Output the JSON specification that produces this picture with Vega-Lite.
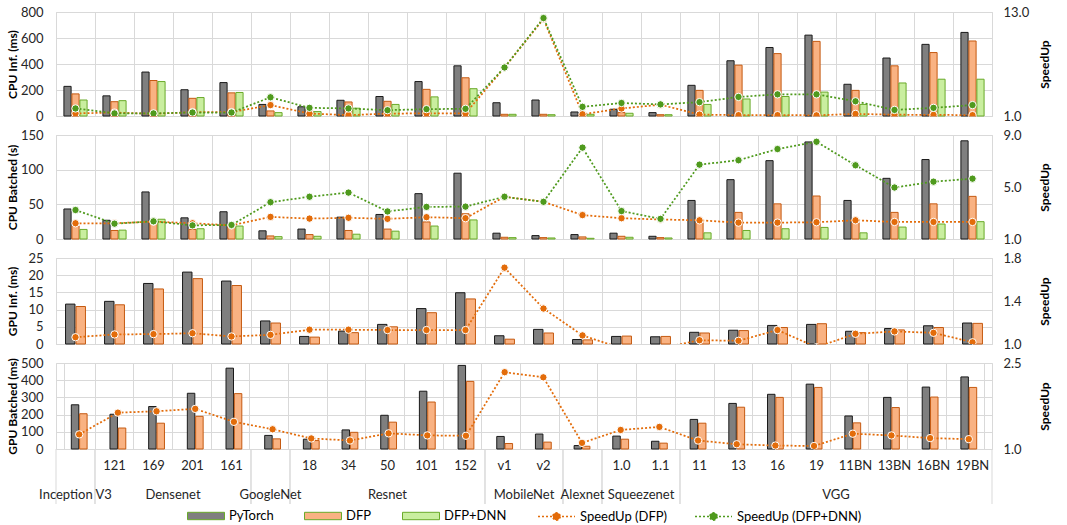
{
  "$schema": "https://vega.github.io/schema/vega-lite/v6.json",
  "background": "white",
  "padding": {"top": 5, "left": 5, "right": 5, "bottom": 2},
  "bounds": "flush",
  "spacing": 19,
  "config": {
    "font": "Lato",
    "view": {"stroke": "#d9d9d9"},
    "axis": {"labelFont": "Lato", "labelFontSize": 13, "labelColor": "#262626", "titleFont": "Lato", "titleFontSize": 12, "titleFontWeight": "bold", "titleColor": "#000000", "gridColor": "#d9d9d9", "domain": false, "ticks": false, "labelOverlap": false},
    "legend": {"orient": "bottom", "direction": "horizontal", "labelFont": "Lato", "labelFontSize": 13, "labelColor": "#000000", "columnPadding": 28, "gridAlign": "none", "labelOffset": 4, "offset": -8, "padding": 0, "layout": {"bottom": {"anchor": "middle", "direction": "horizontal", "margin": 30}}},
    "text": {"font": "Lato", "fontSize": 13, "color": "#262626"}
  },
  "resolve": {"scale": {"x": "shared", "y": "independent", "xOffset": "independent", "fill": "shared", "color": "shared"}},
  "datasets": {
    "cpu_inf": [
      {"model": "Inception V3", "PyTorch": 228, "DFP": 170, "DFP+DNN": 123, "SpeedUp (DFP)": 1.3, "SpeedUp (DFP+DNN)": 1.87},
      {"model": "Densenet 121", "PyTorch": 155, "DFP": 110, "DFP+DNN": 118, "SpeedUp (DFP)": 1.4, "SpeedUp (DFP+DNN)": 1.3},
      {"model": "Densenet 169", "PyTorch": 338, "DFP": 273, "DFP+DNN": 265, "SpeedUp (DFP)": 1.25, "SpeedUp (DFP+DNN)": 1.3},
      {"model": "Densenet 201", "PyTorch": 202, "DFP": 136, "DFP+DNN": 142, "SpeedUp (DFP)": 1.45, "SpeedUp (DFP+DNN)": 1.4},
      {"model": "Densenet 161", "PyTorch": 257, "DFP": 178, "DFP+DNN": 181, "SpeedUp (DFP)": 1.45, "SpeedUp (DFP+DNN)": 1.4},
      {"model": "GoogleNet", "PyTorch": 89, "DFP": 39, "DFP+DNN": 26, "SpeedUp (DFP)": 2.26, "SpeedUp (DFP+DNN)": 3.16},
      {"model": "Resnet 18", "PyTorch": 71, "DFP": 38, "DFP+DNN": 34, "SpeedUp (DFP)": 1.28, "SpeedUp (DFP+DNN)": 1.94},
      {"model": "Resnet 34", "PyTorch": 121, "DFP": 108, "DFP+DNN": 60, "SpeedUp (DFP)": 1.1, "SpeedUp (DFP+DNN)": 1.87},
      {"model": "Resnet 50", "PyTorch": 150, "DFP": 113, "DFP+DNN": 89, "SpeedUp (DFP)": 1.28, "SpeedUp (DFP+DNN)": 1.67},
      {"model": "Resnet 101", "PyTorch": 265, "DFP": 205, "DFP+DNN": 147, "SpeedUp (DFP)": 1.3, "SpeedUp (DFP+DNN)": 1.79},
      {"model": "Resnet 152", "PyTorch": 386, "DFP": 294, "DFP+DNN": 210, "SpeedUp (DFP)": 1.3, "SpeedUp (DFP+DNN)": 1.83},
      {"model": "MobileNet v1", "PyTorch": 102, "DFP": 13, "DFP+DNN": 13, "SpeedUp (DFP)": 6.6, "SpeedUp (DFP+DNN)": 6.6},
      {"model": "MobileNet v2", "PyTorch": 123, "DFP": 13, "DFP+DNN": 10, "SpeedUp (DFP)": 12.2, "SpeedUp (DFP+DNN)": 12.3},
      {"model": "Alexnet", "PyTorch": 31, "DFP": 14, "DFP+DNN": 13, "SpeedUp (DFP)": 1.2, "SpeedUp (DFP+DNN)": 2.06},
      {"model": "Squeezenet 1.0", "PyTorch": 52, "DFP": 26, "DFP+DNN": 21, "SpeedUp (DFP)": 1.87, "SpeedUp (DFP+DNN)": 2.5},
      {"model": "Squeezenet 1.1", "PyTorch": 26, "DFP": 10, "DFP+DNN": 10, "SpeedUp (DFP)": 2.3, "SpeedUp (DFP+DNN)": 2.34},
      {"model": "VGG 11", "PyTorch": 236, "DFP": 197, "DFP+DNN": 89, "SpeedUp (DFP)": 1.16, "SpeedUp (DFP+DNN)": 2.6},
      {"model": "VGG 13", "PyTorch": 425, "DFP": 391, "DFP+DNN": 131, "SpeedUp (DFP)": 1.1, "SpeedUp (DFP+DNN)": 3.2},
      {"model": "VGG 16", "PyTorch": 527, "DFP": 480, "DFP+DNN": 150, "SpeedUp (DFP)": 1.1, "SpeedUp (DFP+DNN)": 3.5},
      {"model": "VGG 19", "PyTorch": 622, "DFP": 574, "DFP+DNN": 184, "SpeedUp (DFP)": 1.08, "SpeedUp (DFP+DNN)": 3.5},
      {"model": "VGG 11BN", "PyTorch": 244, "DFP": 197, "DFP+DNN": 89, "SpeedUp (DFP)": 1.24, "SpeedUp (DFP+DNN)": 2.7},
      {"model": "VGG 13BN", "PyTorch": 446, "DFP": 386, "DFP+DNN": 254, "SpeedUp (DFP)": 1.15, "SpeedUp (DFP+DNN)": 1.7},
      {"model": "VGG 16BN", "PyTorch": 551, "DFP": 488, "DFP+DNN": 283, "SpeedUp (DFP)": 1.13, "SpeedUp (DFP+DNN)": 1.94},
      {"model": "VGG 19BN", "PyTorch": 643, "DFP": 577, "DFP+DNN": 283, "SpeedUp (DFP)": 1.1, "SpeedUp (DFP+DNN)": 2.26}
    ],
    "cpu_bat": [
      {"model": "Inception V3", "PyTorch": 43.3, "DFP": 19, "DFP+DNN": 13.8, "SpeedUp (DFP)": 2.21, "SpeedUp (DFP+DNN)": 3.23},
      {"model": "Densenet 121", "PyTorch": 27, "DFP": 12.3, "DFP+DNN": 12.8, "SpeedUp (DFP)": 2.21, "SpeedUp (DFP+DNN)": 2.18},
      {"model": "Densenet 169", "PyTorch": 67.9, "DFP": 24, "DFP+DNN": 28.5, "SpeedUp (DFP)": 2.34, "SpeedUp (DFP+DNN)": 2.36},
      {"model": "Densenet 201", "PyTorch": 30.5, "DFP": 13.8, "DFP+DNN": 14.8, "SpeedUp (DFP)": 2.21, "SpeedUp (DFP+DNN)": 2.05},
      {"model": "Densenet 161", "PyTorch": 39.3, "DFP": 18.7, "DFP+DNN": 18.7, "SpeedUp (DFP)": 2.05, "SpeedUp (DFP+DNN)": 2.08},
      {"model": "GoogleNet", "PyTorch": 11.8, "DFP": 4.4, "DFP+DNN": 3.4, "SpeedUp (DFP)": 2.7, "SpeedUp (DFP+DNN)": 3.83},
      {"model": "Resnet 18", "PyTorch": 14.3, "DFP": 6.4, "DFP+DNN": 3.9, "SpeedUp (DFP)": 2.57, "SpeedUp (DFP+DNN)": 4.25},
      {"model": "Resnet 34", "PyTorch": 31.5, "DFP": 12.3, "DFP+DNN": 6.9, "SpeedUp (DFP)": 2.63, "SpeedUp (DFP+DNN)": 4.57},
      {"model": "Resnet 50", "PyTorch": 35.4, "DFP": 14.3, "DFP+DNN": 11.3, "SpeedUp (DFP)": 2.55, "SpeedUp (DFP+DNN)": 3.12},
      {"model": "Resnet 101", "PyTorch": 65.4, "DFP": 24.6, "DFP+DNN": 18.7, "SpeedUp (DFP)": 2.68, "SpeedUp (DFP+DNN)": 3.47},
      {"model": "Resnet 152", "PyTorch": 94.9, "DFP": 36.4, "DFP+DNN": 27.5, "SpeedUp (DFP)": 2.6, "SpeedUp (DFP+DNN)": 3.49},
      {"model": "MobileNet v1", "PyTorch": 8.4, "DFP": 2.5, "DFP+DNN": 2.0, "SpeedUp (DFP)": 4.25, "SpeedUp (DFP+DNN)": 4.25},
      {"model": "MobileNet v2", "PyTorch": 4.9, "DFP": 2.0, "DFP+DNN": 1.5, "SpeedUp (DFP)": 3.86, "SpeedUp (DFP+DNN)": 3.86},
      {"model": "Alexnet", "PyTorch": 6.4, "DFP": 3.0, "DFP+DNN": 1.0, "SpeedUp (DFP)": 2.84, "SpeedUp (DFP+DNN)": 8.03},
      {"model": "Squeezenet 1.0", "PyTorch": 8.4, "DFP": 3.9, "DFP+DNN": 2.5, "SpeedUp (DFP)": 2.6, "SpeedUp (DFP+DNN)": 3.15},
      {"model": "Squeezenet 1.1", "PyTorch": 3.9, "DFP": 2.0, "DFP+DNN": 1.5, "SpeedUp (DFP)": 2.5, "SpeedUp (DFP+DNN)": 2.55},
      {"model": "VGG 11", "PyTorch": 55.6, "DFP": 23.6, "DFP+DNN": 8.9, "SpeedUp (DFP)": 2.44, "SpeedUp (DFP+DNN)": 6.72},
      {"model": "VGG 13", "PyTorch": 85.6, "DFP": 38.4, "DFP+DNN": 12.3, "SpeedUp (DFP)": 2.26, "SpeedUp (DFP+DNN)": 7.06},
      {"model": "VGG 16", "PyTorch": 113, "DFP": 50.7, "DFP+DNN": 14.8, "SpeedUp (DFP)": 2.26, "SpeedUp (DFP+DNN)": 7.92},
      {"model": "VGG 19", "PyTorch": 140, "DFP": 62, "DFP+DNN": 16.7, "SpeedUp (DFP)": 2.29, "SpeedUp (DFP+DNN)": 8.48},
      {"model": "VGG 11BN", "PyTorch": 55.6, "DFP": 23.6, "DFP+DNN": 8.9, "SpeedUp (DFP)": 2.44, "SpeedUp (DFP+DNN)": 6.67},
      {"model": "VGG 13BN", "PyTorch": 87.5, "DFP": 38.4, "DFP+DNN": 17.2, "SpeedUp (DFP)": 2.31, "SpeedUp (DFP+DNN)": 4.96},
      {"model": "VGG 16BN", "PyTorch": 114.6, "DFP": 50.7, "DFP+DNN": 21.6, "SpeedUp (DFP)": 2.31, "SpeedUp (DFP+DNN)": 5.41},
      {"model": "VGG 19BN", "PyTorch": 141.6, "DFP": 61.5, "DFP+DNN": 25, "SpeedUp (DFP)": 2.31, "SpeedUp (DFP+DNN)": 5.64}
    ],
    "gpu_inf": [
      {"model": "Inception V3", "PyTorch": 11.6, "DFP": 10.9, "SpeedUp (DFP)": 1.063},
      {"model": "Densenet 121", "PyTorch": 12.4, "DFP": 11.4, "SpeedUp (DFP)": 1.089},
      {"model": "Densenet 169", "PyTorch": 17.6, "DFP": 16.0, "SpeedUp (DFP)": 1.092},
      {"model": "Densenet 201", "PyTorch": 20.9, "DFP": 19.0, "SpeedUp (DFP)": 1.1},
      {"model": "Densenet 161", "PyTorch": 18.3, "DFP": 17.0, "SpeedUp (DFP)": 1.07},
      {"model": "GoogleNet", "PyTorch": 6.7, "DFP": 6.1, "SpeedUp (DFP)": 1.085},
      {"model": "Resnet 18", "PyTorch": 2.2, "DFP": 2.0, "SpeedUp (DFP)": 1.133},
      {"model": "Resnet 34", "PyTorch": 3.75, "DFP": 3.3, "SpeedUp (DFP)": 1.133},
      {"model": "Resnet 50", "PyTorch": 5.7, "DFP": 5.0, "SpeedUp (DFP)": 1.13},
      {"model": "Resnet 101", "PyTorch": 10.3, "DFP": 9.1, "SpeedUp (DFP)": 1.13},
      {"model": "Resnet 152", "PyTorch": 14.9, "DFP": 13.1, "SpeedUp (DFP)": 1.13},
      {"model": "MobileNet v1", "PyTorch": 2.4, "DFP": 1.4, "SpeedUp (DFP)": 1.71},
      {"model": "MobileNet v2", "PyTorch": 4.25, "DFP": 3.2, "SpeedUp (DFP)": 1.33},
      {"model": "Alexnet", "PyTorch": 1.3, "DFP": 1.2, "SpeedUp (DFP)": 1.08},
      {"model": "Squeezenet 1.0", "PyTorch": 2.2, "DFP": 2.3, "SpeedUp (DFP)": 0.96},
      {"model": "Squeezenet 1.1", "PyTorch": 2.1, "DFP": 2.2, "SpeedUp (DFP)": 0.96},
      {"model": "VGG 11", "PyTorch": 3.4, "DFP": 3.2, "SpeedUp (DFP)": 1.035},
      {"model": "VGG 13", "PyTorch": 4.0, "DFP": 3.9, "SpeedUp (DFP)": 1.03},
      {"model": "VGG 16", "PyTorch": 5.4, "DFP": 4.8, "SpeedUp (DFP)": 1.13},
      {"model": "VGG 19", "PyTorch": 5.7, "DFP": 5.9, "SpeedUp (DFP)": 0.97},
      {"model": "VGG 11BN", "PyTorch": 3.7, "DFP": 3.3, "SpeedUp (DFP)": 1.095},
      {"model": "VGG 13BN", "PyTorch": 4.5, "DFP": 4.1, "SpeedUp (DFP)": 1.117},
      {"model": "VGG 16BN", "PyTorch": 5.3, "DFP": 4.8, "SpeedUp (DFP)": 1.104},
      {"model": "VGG 19BN", "PyTorch": 6.1, "DFP": 6.0, "SpeedUp (DFP)": 1.016}
    ],
    "gpu_bat": [
      {"model": "Inception V3", "PyTorch": 257, "DFP": 205, "SpeedUp (DFP)": 1.255},
      {"model": "Densenet 121", "PyTorch": 202, "DFP": 122, "SpeedUp (DFP)": 1.634},
      {"model": "Densenet 169", "PyTorch": 247, "DFP": 150, "SpeedUp (DFP)": 1.658},
      {"model": "Densenet 201", "PyTorch": 324, "DFP": 190, "SpeedUp (DFP)": 1.7},
      {"model": "Densenet 161", "PyTorch": 470, "DFP": 322, "SpeedUp (DFP)": 1.474},
      {"model": "GoogleNet", "PyTorch": 79, "DFP": 59, "SpeedUp (DFP)": 1.344},
      {"model": "Resnet 18", "PyTorch": 57, "DFP": 49, "SpeedUp (DFP)": 1.184},
      {"model": "Resnet 34", "PyTorch": 111, "DFP": 97, "SpeedUp (DFP)": 1.148},
      {"model": "Resnet 50", "PyTorch": 196, "DFP": 156, "SpeedUp (DFP)": 1.273},
      {"model": "Resnet 101", "PyTorch": 336, "DFP": 273, "SpeedUp (DFP)": 1.237},
      {"model": "Resnet 152", "PyTorch": 486, "DFP": 393, "SpeedUp (DFP)": 1.231},
      {"model": "MobileNet v1", "PyTorch": 73, "DFP": 32, "SpeedUp (DFP)": 2.34},
      {"model": "MobileNet v2", "PyTorch": 87, "DFP": 40, "SpeedUp (DFP)": 2.25},
      {"model": "Alexnet", "PyTorch": 20, "DFP": 16, "SpeedUp (DFP)": 1.107},
      {"model": "Squeezenet 1.0", "PyTorch": 75, "DFP": 57, "SpeedUp (DFP)": 1.332},
      {"model": "Squeezenet 1.1", "PyTorch": 45, "DFP": 34, "SpeedUp (DFP)": 1.385},
      {"model": "VGG 11", "PyTorch": 172, "DFP": 150, "SpeedUp (DFP)": 1.148},
      {"model": "VGG 13", "PyTorch": 265, "DFP": 243, "SpeedUp (DFP)": 1.083},
      {"model": "VGG 16", "PyTorch": 318, "DFP": 300, "SpeedUp (DFP)": 1.06},
      {"model": "VGG 19", "PyTorch": 377, "DFP": 358, "SpeedUp (DFP)": 1.053},
      {"model": "VGG 11BN", "PyTorch": 192, "DFP": 152, "SpeedUp (DFP)": 1.267},
      {"model": "VGG 13BN", "PyTorch": 300, "DFP": 241, "SpeedUp (DFP)": 1.237},
      {"model": "VGG 16BN", "PyTorch": 360, "DFP": 302, "SpeedUp (DFP)": 1.19},
      {"model": "VGG 19BN", "PyTorch": 419, "DFP": 358, "SpeedUp (DFP)": 1.172}
    ],
    "models": [
      {"model": "Inception V3", "sub": ""},
      {"model": "Densenet 121", "sub": "121"},
      {"model": "Densenet 169", "sub": "169"},
      {"model": "Densenet 201", "sub": "201"},
      {"model": "Densenet 161", "sub": "161"},
      {"model": "GoogleNet", "sub": ""},
      {"model": "Resnet 18", "sub": "18"},
      {"model": "Resnet 34", "sub": "34"},
      {"model": "Resnet 50", "sub": "50"},
      {"model": "Resnet 101", "sub": "101"},
      {"model": "Resnet 152", "sub": "152"},
      {"model": "MobileNet v1", "sub": "v1"},
      {"model": "MobileNet v2", "sub": "v2"},
      {"model": "Alexnet", "sub": ""},
      {"model": "Squeezenet 1.0", "sub": "1.0"},
      {"model": "Squeezenet 1.1", "sub": "1.1"},
      {"model": "VGG 11", "sub": "11"},
      {"model": "VGG 13", "sub": "13"},
      {"model": "VGG 16", "sub": "16"},
      {"model": "VGG 19", "sub": "19"},
      {"model": "VGG 11BN", "sub": "11BN"},
      {"model": "VGG 13BN", "sub": "13BN"},
      {"model": "VGG 16BN", "sub": "16BN"},
      {"model": "VGG 19BN", "sub": "19BN"}
    ],
    "groups": [
      {"family": "Inception V3", "first": "Inception V3", "last": "Inception V3", "mid": "Inception V3", "even": false},
      {"family": "Densenet", "first": "Densenet 121", "last": "Densenet 161", "mid": "Densenet 169", "even": true},
      {"family": "GoogleNet", "first": "GoogleNet", "last": "GoogleNet", "mid": "GoogleNet", "even": false},
      {"family": "Resnet", "first": "Resnet 18", "last": "Resnet 152", "mid": "Resnet 50", "even": false},
      {"family": "MobileNet", "first": "MobileNet v1", "last": "MobileNet v2", "mid": "MobileNet v1", "even": true},
      {"family": "Alexnet", "first": "Alexnet", "last": "Alexnet", "mid": "Alexnet", "even": false},
      {"family": "Squeezenet", "first": "Squeezenet 1.0", "last": "Squeezenet 1.1", "mid": "Squeezenet 1.0", "even": true},
      {"family": "VGG", "first": "VGG 11", "last": "VGG 19BN", "mid": "VGG 19", "even": true}
    ]
  },
  "vconcat": [
    {
      "width": 936, "height": 104,
      "data": {"name": "cpu_inf"},
      "layer": [
        {
          "transform": [{"fold": ["PyTorch", "DFP", "DFP+DNN"], "as": ["series", "value"]}],
          "mark": {"type": "bar", "strokeWidth": 1},
          "encoding": {
            "x": {"field": "model", "type": "nominal", "scale": {"domain": ["Inception V3","Densenet 121","Densenet 169","Densenet 201","Densenet 161","GoogleNet","Resnet 18","Resnet 34","Resnet 50","Resnet 101","Resnet 152","MobileNet v1","MobileNet v2","Alexnet","Squeezenet 1.0","Squeezenet 1.1","VGG 11","VGG 13","VGG 16","VGG 19","VGG 11BN","VGG 13BN","VGG 16BN","VGG 19BN"], "paddingInner": 0, "paddingOuter": 0}, "axis": {"title": null, "labels": false, "ticks": false, "domain": false, "grid": true, "tickBand": "extent"}},
            "xOffset": {"field": "series", "type": "nominal", "scale": {"domain": ["PyTorch", "DFP", "DFP+DNN"], "paddingInner": 0.1, "paddingOuter": 0.99}},
            "y": {"field": "value", "type": "quantitative", "scale": {"domain": [0, 800], "nice": false}, "axis": {"values": [0, 200, 400, 600, 800], "title": "CPU Inf. (ms)", "labelPadding": 13, "labelOverlap": false, "titleX": -44, "titleBaseline": "middle"}},
            "fill": {"field": "series", "type": "nominal", "scale": {"domain": ["PyTorch", "DFP", "DFP+DNN"], "range": ["#7f7f7f", "#f9b282", "#c9ee9f"]}, "legend": {"title": null, "columnPadding": 28, "gridAlign": "none", "symbolType": "M-1,-0.2H1V0.2H-1Z", "symbolSize": 1369, "symbolStrokeColor": "#404040", "symbolStrokeWidth": 1}},
            "stroke": {"condition": [{"test": "datum.series == 'PyTorch'", "value": "#1a1a1a"}, {"test": "datum.series == 'DFP'", "value": "#c55a11"}], "value": "#6aaa2a"}
          }
        },
        {
          "transform": [{"fold": ["SpeedUp (DFP)", "SpeedUp (DFP+DNN)"], "as": ["series", "value"]}],
          "layer": [
            {
              "mark": {"type": "line", "strokeDash": [2, 2], "strokeWidth": 1.75, "clip": true},
              "encoding": {
                "x": {"field": "model", "type": "nominal", "scale": {"domain": ["Inception V3","Densenet 121","Densenet 169","Densenet 201","Densenet 161","GoogleNet","Resnet 18","Resnet 34","Resnet 50","Resnet 101","Resnet 152","MobileNet v1","MobileNet v2","Alexnet","Squeezenet 1.0","Squeezenet 1.1","VGG 11","VGG 13","VGG 16","VGG 19","VGG 11BN","VGG 13BN","VGG 16BN","VGG 19BN"]}},
                "y": {"field": "value", "type": "quantitative", "scale": {"domain": [1, 13], "nice": false}, "axis": {"orient": "right", "grid": false, "values": [1, 5, 9, 13], "format": ".1f", "title": "SpeedUp", "labelPadding": 11, "labelOverlap": false, "titleAngle": -90, "titleX": 52, "titleBaseline": "middle"}},
                "color": {"field": "series", "type": "nominal", "scale": {"domain": ["SpeedUp (DFP)", "SpeedUp (DFP+DNN)"], "range": ["#e36c0a", "#4f9a1d"]}, "legend": {"title": null, "columnPadding": 24, "gridAlign": "none", "symbolType": "M-1,0H1M0.2,0A0.2,0.2,0,1,1,-0.2,0A0.2,0.2,0,1,1,0.2,0", "symbolSize": 1369, "symbolDash": [2, 2], "symbolStrokeWidth": 1.5}}
              }
            },
            {
              "mark": {"type": "point", "filled": true, "size": 55, "stroke": "white", "strokeWidth": 1, "opacity": 1, "clip": true},
              "encoding": {
                "x": {"field": "model", "type": "nominal", "scale": {"domain": ["Inception V3","Densenet 121","Densenet 169","Densenet 201","Densenet 161","GoogleNet","Resnet 18","Resnet 34","Resnet 50","Resnet 101","Resnet 152","MobileNet v1","MobileNet v2","Alexnet","Squeezenet 1.0","Squeezenet 1.1","VGG 11","VGG 13","VGG 16","VGG 19","VGG 11BN","VGG 13BN","VGG 16BN","VGG 19BN"]}},
                "y": {"field": "value", "type": "quantitative"},
                "color": {"field": "series", "type": "nominal"}
              }
            }
          ]
        }
      ],
      "resolve": {"scale": {"y": "independent"}}
    },
    {
      "width": 936, "height": 104,
      "data": {"name": "cpu_bat"},
      "layer": [
        {
          "transform": [{"fold": ["PyTorch", "DFP", "DFP+DNN"], "as": ["series", "value"]}],
          "mark": {"type": "bar", "strokeWidth": 1},
          "encoding": {
            "x": {"field": "model", "type": "nominal", "scale": {"domain": ["Inception V3","Densenet 121","Densenet 169","Densenet 201","Densenet 161","GoogleNet","Resnet 18","Resnet 34","Resnet 50","Resnet 101","Resnet 152","MobileNet v1","MobileNet v2","Alexnet","Squeezenet 1.0","Squeezenet 1.1","VGG 11","VGG 13","VGG 16","VGG 19","VGG 11BN","VGG 13BN","VGG 16BN","VGG 19BN"]}, "axis": {"title": null, "labels": false, "ticks": false, "domain": false, "grid": true, "tickBand": "extent"}},
            "xOffset": {"field": "series", "type": "nominal", "scale": {"domain": ["PyTorch", "DFP", "DFP+DNN"], "paddingInner": 0.1, "paddingOuter": 0.99}},
            "y": {"field": "value", "type": "quantitative", "scale": {"domain": [0, 150], "nice": false}, "axis": {"values": [0, 50, 100, 150], "title": "CPU Batched (s)", "labelPadding": 13, "labelOverlap": false, "titleX": -44, "titleBaseline": "middle"}},
            "fill": {"field": "series", "type": "nominal"},
            "stroke": {"condition": [{"test": "datum.series == 'PyTorch'", "value": "#1a1a1a"}, {"test": "datum.series == 'DFP'", "value": "#c55a11"}], "value": "#6aaa2a"}
          }
        },
        {
          "transform": [{"fold": ["SpeedUp (DFP)", "SpeedUp (DFP+DNN)"], "as": ["series", "value"]}],
          "layer": [
            {
              "mark": {"type": "line", "strokeDash": [2, 2], "strokeWidth": 1.75, "clip": true},
              "encoding": {
                "x": {"field": "model", "type": "nominal", "scale": {"domain": ["Inception V3","Densenet 121","Densenet 169","Densenet 201","Densenet 161","GoogleNet","Resnet 18","Resnet 34","Resnet 50","Resnet 101","Resnet 152","MobileNet v1","MobileNet v2","Alexnet","Squeezenet 1.0","Squeezenet 1.1","VGG 11","VGG 13","VGG 16","VGG 19","VGG 11BN","VGG 13BN","VGG 16BN","VGG 19BN"]}},
                "y": {"field": "value", "type": "quantitative", "scale": {"domain": [1, 9], "nice": false}, "axis": {"orient": "right", "grid": false, "values": [1, 3, 5, 7, 9], "format": ".1f", "title": "SpeedUp", "labelPadding": 11, "labelOverlap": false, "titleAngle": -90, "titleX": 52, "titleBaseline": "middle"}},
                "color": {"field": "series", "type": "nominal"}
              }
            },
            {
              "mark": {"type": "point", "filled": true, "size": 55, "stroke": "white", "strokeWidth": 1, "opacity": 1, "clip": true},
              "encoding": {
                "x": {"field": "model", "type": "nominal", "scale": {"domain": ["Inception V3","Densenet 121","Densenet 169","Densenet 201","Densenet 161","GoogleNet","Resnet 18","Resnet 34","Resnet 50","Resnet 101","Resnet 152","MobileNet v1","MobileNet v2","Alexnet","Squeezenet 1.0","Squeezenet 1.1","VGG 11","VGG 13","VGG 16","VGG 19","VGG 11BN","VGG 13BN","VGG 16BN","VGG 19BN"]}},
                "y": {"field": "value", "type": "quantitative"},
                "color": {"field": "series", "type": "nominal"}
              }
            }
          ]
        }
      ],
      "resolve": {"scale": {"y": "independent"}}
    },
    {
      "width": 936, "height": 86,
      "data": {"name": "gpu_inf"},
      "layer": [
        {
          "transform": [{"fold": ["PyTorch", "DFP"], "as": ["series", "value"]}],
          "mark": {"type": "bar", "strokeWidth": 1},
          "encoding": {
            "x": {"field": "model", "type": "nominal", "scale": {"domain": ["Inception V3","Densenet 121","Densenet 169","Densenet 201","Densenet 161","GoogleNet","Resnet 18","Resnet 34","Resnet 50","Resnet 101","Resnet 152","MobileNet v1","MobileNet v2","Alexnet","Squeezenet 1.0","Squeezenet 1.1","VGG 11","VGG 13","VGG 16","VGG 19","VGG 11BN","VGG 13BN","VGG 16BN","VGG 19BN"]}, "axis": {"title": null, "labels": false, "ticks": false, "domain": false, "grid": true, "tickBand": "extent"}},
            "xOffset": {"field": "series", "type": "nominal", "scale": {"domain": ["PyTorch", "DFP"], "paddingInner": 0.1, "paddingOuter": 0.91}},
            "y": {"field": "value", "type": "quantitative", "scale": {"domain": [0, 25], "nice": false}, "axis": {"values": [0, 5, 10, 15, 20, 25], "title": "GPU Inf. (ms)", "labelPadding": 13, "labelOverlap": false, "titleX": -44, "titleBaseline": "middle"}},
            "fill": {"field": "series", "type": "nominal"},
            "stroke": {"condition": [{"test": "datum.series == 'PyTorch'", "value": "#1a1a1a"}, {"test": "datum.series == 'DFP'", "value": "#c55a11"}], "value": "#6aaa2a"}
          }
        },
        {
          "transform": [{"fold": ["SpeedUp (DFP)"], "as": ["series", "value"]}],
          "layer": [
            {
              "mark": {"type": "line", "strokeDash": [2, 2], "strokeWidth": 1.75, "clip": true},
              "encoding": {
                "x": {"field": "model", "type": "nominal", "scale": {"domain": ["Inception V3","Densenet 121","Densenet 169","Densenet 201","Densenet 161","GoogleNet","Resnet 18","Resnet 34","Resnet 50","Resnet 101","Resnet 152","MobileNet v1","MobileNet v2","Alexnet","Squeezenet 1.0","Squeezenet 1.1","VGG 11","VGG 13","VGG 16","VGG 19","VGG 11BN","VGG 13BN","VGG 16BN","VGG 19BN"]}},
                "y": {"field": "value", "type": "quantitative", "scale": {"domain": [1, 1.8], "nice": false}, "axis": {"orient": "right", "grid": false, "values": [1, 1.2, 1.4, 1.6, 1.8], "format": ".1f", "title": "SpeedUp", "labelPadding": 11, "labelOverlap": false, "titleAngle": -90, "titleX": 52, "titleBaseline": "middle"}},
                "color": {"field": "series", "type": "nominal"}
              }
            },
            {
              "mark": {"type": "point", "filled": true, "size": 55, "stroke": "white", "strokeWidth": 1, "opacity": 1, "clip": true},
              "encoding": {
                "x": {"field": "model", "type": "nominal", "scale": {"domain": ["Inception V3","Densenet 121","Densenet 169","Densenet 201","Densenet 161","GoogleNet","Resnet 18","Resnet 34","Resnet 50","Resnet 101","Resnet 152","MobileNet v1","MobileNet v2","Alexnet","Squeezenet 1.0","Squeezenet 1.1","VGG 11","VGG 13","VGG 16","VGG 19","VGG 11BN","VGG 13BN","VGG 16BN","VGG 19BN"]}},
                "y": {"field": "value", "type": "quantitative"},
                "color": {"field": "series", "type": "nominal"}
              }
            }
          ]
        }
      ],
      "resolve": {"scale": {"y": "independent"}}
    },
    {
      "bounds": "flush",
      "spacing": 0,
      "vconcat": [
        {
          "width": 936, "height": 86,
          "data": {"name": "gpu_bat"},
          "layer": [
            {
              "transform": [{"fold": ["PyTorch", "DFP"], "as": ["series", "value"]}],
              "mark": {"type": "bar", "strokeWidth": 1},
              "encoding": {
                "x": {"field": "model", "type": "nominal", "scale": {"domain": ["Inception V3","Densenet 121","Densenet 169","Densenet 201","Densenet 161","GoogleNet","Resnet 18","Resnet 34","Resnet 50","Resnet 101","Resnet 152","MobileNet v1","MobileNet v2","Alexnet","Squeezenet 1.0","Squeezenet 1.1","VGG 11","VGG 13","VGG 16","VGG 19","VGG 11BN","VGG 13BN","VGG 16BN","VGG 19BN"]}, "axis": {"title": null, "labels": false, "ticks": false, "domain": false, "grid": true, "tickBand": "extent"}},
                "xOffset": {"field": "series", "type": "nominal", "scale": {"domain": ["PyTorch", "DFP"], "paddingInner": 0.1, "paddingOuter": 0.91}},
                "y": {"field": "value", "type": "quantitative", "scale": {"domain": [0, 500], "nice": false}, "axis": {"values": [0, 100, 200, 300, 400, 500], "title": "GPU Batched (ms)", "labelPadding": 13, "labelOverlap": false, "titleX": -44, "titleBaseline": "middle"}},
                "fill": {"field": "series", "type": "nominal"},
                "stroke": {"condition": [{"test": "datum.series == 'PyTorch'", "value": "#1a1a1a"}, {"test": "datum.series == 'DFP'", "value": "#c55a11"}], "value": "#6aaa2a"}
              }
            },
            {
              "transform": [{"fold": ["SpeedUp (DFP)"], "as": ["series", "value"]}],
              "layer": [
                {
                  "mark": {"type": "line", "strokeDash": [2, 2], "strokeWidth": 1.75, "clip": true},
                  "encoding": {
                    "x": {"field": "model", "type": "nominal", "scale": {"domain": ["Inception V3","Densenet 121","Densenet 169","Densenet 201","Densenet 161","GoogleNet","Resnet 18","Resnet 34","Resnet 50","Resnet 101","Resnet 152","MobileNet v1","MobileNet v2","Alexnet","Squeezenet 1.0","Squeezenet 1.1","VGG 11","VGG 13","VGG 16","VGG 19","VGG 11BN","VGG 13BN","VGG 16BN","VGG 19BN"]}},
                    "y": {"field": "value", "type": "quantitative", "scale": {"domain": [1, 2.5], "nice": false}, "axis": {"orient": "right", "grid": false, "values": [1, 1.5, 2, 2.5], "format": ".1f", "title": "SpeedUp", "labelPadding": 11, "labelOverlap": false, "titleAngle": -90, "titleX": 52, "titleBaseline": "middle"}},
                    "color": {"field": "series", "type": "nominal"}
                  }
                },
                {
                  "mark": {"type": "point", "filled": true, "size": 55, "stroke": "white", "strokeWidth": 1, "opacity": 1, "clip": true},
                  "encoding": {
                    "x": {"field": "model", "type": "nominal", "scale": {"domain": ["Inception V3","Densenet 121","Densenet 169","Densenet 201","Densenet 161","GoogleNet","Resnet 18","Resnet 34","Resnet 50","Resnet 101","Resnet 152","MobileNet v1","MobileNet v2","Alexnet","Squeezenet 1.0","Squeezenet 1.1","VGG 11","VGG 13","VGG 16","VGG 19","VGG 11BN","VGG 13BN","VGG 16BN","VGG 19BN"]}},
                    "y": {"field": "value", "type": "quantitative"},
                    "color": {"field": "series", "type": "nominal"}
                  }
                }
              ]
            }
          ],
          "resolve": {"scale": {"y": "independent"}}
        },
        {
          "width": 936, "height": 55,
          "view": {"stroke": null},
          "layer": [
            {
              "data": {"name": "groups"},
              "mark": {"type": "rule", "color": "#d9d9d9", "strokeWidth": 1},
              "encoding": {"x": {"field": "first", "type": "nominal", "bandPosition": 0, "scale": {"domain": ["Inception V3","Densenet 121","Densenet 169","Densenet 201","Densenet 161","GoogleNet","Resnet 18","Resnet 34","Resnet 50","Resnet 101","Resnet 152","MobileNet v1","MobileNet v2","Alexnet","Squeezenet 1.0","Squeezenet 1.1","VGG 11","VGG 13","VGG 16","VGG 19","VGG 11BN","VGG 13BN","VGG 16BN","VGG 19BN"]}, "axis": null}}
            },
            {
              "data": {"name": "groups"},
              "mark": {"type": "rule", "color": "#d9d9d9", "strokeWidth": 1},
              "encoding": {"x": {"field": "last", "type": "nominal", "bandPosition": 1, "scale": {"domain": ["Inception V3","Densenet 121","Densenet 169","Densenet 201","Densenet 161","GoogleNet","Resnet 18","Resnet 34","Resnet 50","Resnet 101","Resnet 152","MobileNet v1","MobileNet v2","Alexnet","Squeezenet 1.0","Squeezenet 1.1","VGG 11","VGG 13","VGG 16","VGG 19","VGG 11BN","VGG 13BN","VGG 16BN","VGG 19BN"]}, "axis": null}}
            },
            {
              "data": {"name": "models"},
              "mark": {"type": "text", "baseline": "middle", "align": "center"},
              "encoding": {
                "x": {"field": "model", "type": "nominal", "scale": {"domain": ["Inception V3","Densenet 121","Densenet 169","Densenet 201","Densenet 161","GoogleNet","Resnet 18","Resnet 34","Resnet 50","Resnet 101","Resnet 152","MobileNet v1","MobileNet v2","Alexnet","Squeezenet 1.0","Squeezenet 1.1","VGG 11","VGG 13","VGG 16","VGG 19","VGG 11BN","VGG 13BN","VGG 16BN","VGG 19BN"]}, "axis": null},
                "y": {"datum": "sub", "type": "nominal", "scale": {"type": "point", "domain": ["sub", "group"], "range": [17, 46], "padding": 0}, "axis": null},
                "text": {"field": "sub"}
              }
            },
            {
              "data": {"name": "groups"},
              "transform": [{"filter": "!datum.even"}],
              "mark": {"type": "text", "baseline": "middle", "align": "center"},
              "encoding": {
                "x": {"field": "mid", "type": "nominal", "bandPosition": 0.5, "scale": {"domain": ["Inception V3","Densenet 121","Densenet 169","Densenet 201","Densenet 161","GoogleNet","Resnet 18","Resnet 34","Resnet 50","Resnet 101","Resnet 152","MobileNet v1","MobileNet v2","Alexnet","Squeezenet 1.0","Squeezenet 1.1","VGG 11","VGG 13","VGG 16","VGG 19","VGG 11BN","VGG 13BN","VGG 16BN","VGG 19BN"]}, "axis": null},
                "y": {"datum": "group", "type": "nominal"},
                "text": {"field": "family"}
              }
            },
            {
              "data": {"name": "groups"},
              "transform": [{"filter": "datum.even"}],
              "mark": {"type": "text", "baseline": "middle", "align": "center"},
              "encoding": {
                "x": {"field": "mid", "type": "nominal", "bandPosition": 1, "scale": {"domain": ["Inception V3","Densenet 121","Densenet 169","Densenet 201","Densenet 161","GoogleNet","Resnet 18","Resnet 34","Resnet 50","Resnet 101","Resnet 152","MobileNet v1","MobileNet v2","Alexnet","Squeezenet 1.0","Squeezenet 1.1","VGG 11","VGG 13","VGG 16","VGG 19","VGG 11BN","VGG 13BN","VGG 16BN","VGG 19BN"]}, "axis": null},
                "y": {"datum": "group", "type": "nominal"},
                "text": {"field": "family"}
              }
            }
          ]
        }
      ]
    }
  ]
}
